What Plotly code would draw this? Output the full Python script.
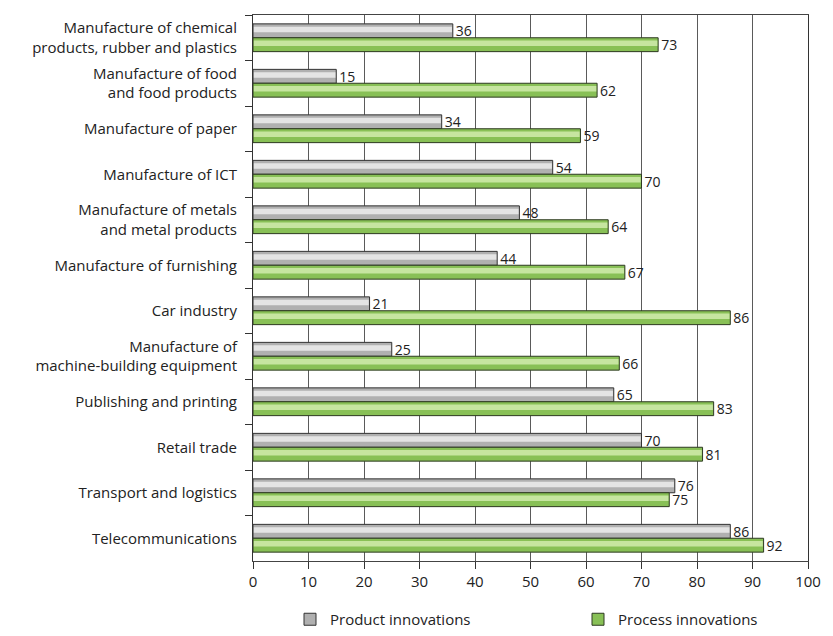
import plotly.graph_objects as go

categories = [
    "Manufacture of chemical<br>products, rubber and plastics",
    "Manufacture of food<br>and food products",
    "Manufacture of paper",
    "Manufacture of ICT",
    "Manufacture of metals<br>and metal products",
    "Manufacture of furnishing",
    "Car industry",
    "Manufacture of<br>machine-building equipment",
    "Publishing and printing",
    "Retail trade",
    "Transport and logistics",
    "Telecommunications",
]
product = [36, 15, 34, 54, 48, 44, 21, 25, 65, 70, 76, 86]
process = [73, 62, 59, 70, 64, 67, 86, 66, 83, 81, 75, 92]
x_ticks = [0, 10, 20, 30, 40, 50, 60, 70, 80, 90, 100]

FONT = "Open Sans"
W = 0.305

fig = go.Figure()

def add_series(vals, name, base, light, edge, offset, legend):
    fig.add_trace(go.Bar(
        y=categories, x=vals, orientation="h", name=name, legend=legend,
        width=W, offset=offset,
        marker=dict(color=base, line=dict(color=edge, width=1)),
        text=[str(v) for v in vals], textposition="outside",
        constraintext="none",
        textfont=dict(family=FONT, size=14, color="#222"),
        cliponaxis=False,
    ))
    fig.add_trace(go.Bar(
        y=categories, x=[v - 0.3 for v in vals], orientation="h", showlegend=False,
        width=W * 0.4, offset=offset + W * 0.2,
        marker=dict(color=light, line=dict(width=0)),
        hoverinfo="skip", base=0.15,
    ))

add_series(product, "Product innovations", "#b0b0b0", "#e4e4e4", "#333333", -W, "legend")
add_series(process, "Process innovations", "#88c056", "#c6e5a0", "#2e3a22", 0.0, "legend2")

leg_common = dict(orientation="h", xref="container", yref="container",
                  y=-0.014, yanchor="bottom", xanchor="left",
                  font=dict(family=FONT, size=15, color="#222"),
                  bgcolor="rgba(0,0,0,0)")

fig.update_layout(
    width=833, height=636,
    margin=dict(l=253, r=15, t=15, b=74),
    barmode="overlay",
    plot_bgcolor="white", paper_bgcolor="white",
    font=dict(family=FONT, size=15, color="#222"),
    showlegend=True,
    legend=dict(x=290 / 833, **leg_common),
    legend2=dict(x=578 / 833, **leg_common),
    xaxis=dict(range=[0, 100], tickvals=x_ticks, showgrid=True, gridcolor="#5a5a5a",
               gridwidth=1, showline=True, linecolor="#444", linewidth=1, mirror=True,
               ticks="outside", ticklen=7, tickcolor="#333", zeroline=False,
               tickfont=dict(family=FONT, size=15, color="#222")),
    yaxis=dict(autorange="reversed", showline=True, linecolor="#333", linewidth=1,
               mirror=True, ticks="outside", ticklen=7, tickcolor="#333",
               tickson="boundaries", showgrid=False, ticklabelstandoff=12,
               tickfont=dict(family=FONT, size=15, color="#222")),
)

fig.write_html("out.html")
